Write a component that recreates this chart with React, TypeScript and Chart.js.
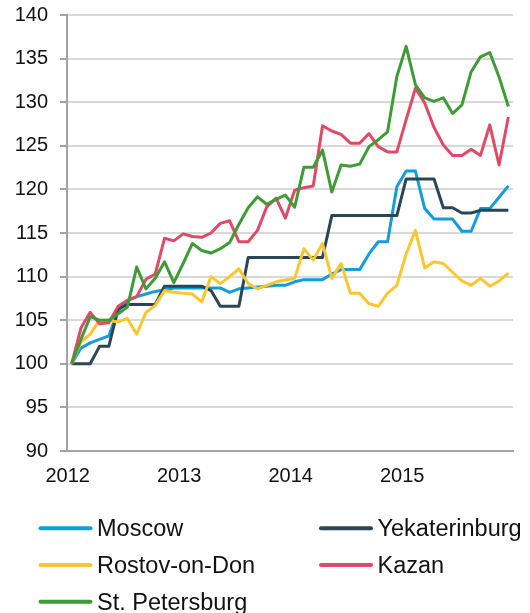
import React, { useEffect, useRef } from 'react';
import { Chart, registerables } from 'chart.js';

Chart.register(...registerables);

const categories = [
  '2012-01', '2012-02', '2012-03', '2012-04', '2012-05', '2012-06', '2012-07', '2012-08', '2012-09', '2012-10', '2012-11', '2012-12',
  '2013-01', '2013-02', '2013-03', '2013-04', '2013-05', '2013-06', '2013-07', '2013-08', '2013-09', '2013-10', '2013-11', '2013-12',
  '2014-01', '2014-02', '2014-03', '2014-04', '2014-05', '2014-06', '2014-07', '2014-08', '2014-09', '2014-10', '2014-11', '2014-12',
  '2015-01', '2015-02', '2015-03', '2015-04', '2015-05', '2015-06', '2015-07', '2015-08', '2015-09', '2015-10', '2015-11', '2015-12',
];

const yearLabels = ['2012', '2013', '2014', '2015'];

const moscow = [
  100, 101.8, 102.4, 102.8, 103.2, 106.1, 107.2, 107.7, 108.0, 108.3, 108.5, 108.7,
  108.7, 108.7, 108.7, 108.7, 108.7, 108.2, 108.6, 108.7, 108.8, 108.9, 109.0, 109.0,
  109.4, 109.65, 109.65, 109.65, 110.3, 110.8, 110.8, 110.8, 112.6, 114.0, 114.0, 120.3,
  122.1, 122.1, 117.8, 116.6, 116.6, 116.6, 115.2, 115.2, 117.8, 117.8, 119.1, 120.4,
];

const yekaterinburg = [
  100, 100, 100, 102, 102, 106.3, 106.8, 106.8, 106.8, 106.8, 108.9, 108.9,
  108.9, 108.9, 108.9, 108.4, 106.6, 106.6, 106.6, 112.2, 112.2, 112.2, 112.2, 112.2,
  112.2, 112.2, 112.2, 112.2, 117.0, 117.0, 117.0, 117.0, 117.0, 117.0, 117.0, 117.0,
  121.2, 121.2, 121.2, 121.2, 117.9, 117.9, 117.3, 117.3, 117.6, 117.6, 117.6, 117.6,
];

const rostov = [
  100, 102.5, 103.4, 105.0, 105.0, 104.8, 105.2, 103.4, 105.9, 106.7, 108.4, 108.2,
  108.1, 108.0, 107.1, 110.0, 109.2, 110.0, 110.9, 109.2, 108.6, 109.0, 109.4, 109.6,
  109.8, 113.2, 111.9, 113.8, 109.8, 111.5, 108.1, 108.1, 106.9, 106.6, 108.1, 109.0,
  112.6, 115.3, 111.0, 111.7, 111.5, 110.5, 109.5, 109.0, 109.8, 108.9, 109.5, 110.4,
];

const kazan = [
  100, 104.1, 105.9, 104.6, 104.7, 106.6, 107.3, 107.7, 109.7, 110.3, 114.4, 114.1,
  114.9, 114.6, 114.5, 115.0, 116.1, 116.4, 114.0, 114.0, 115.3, 118.0, 119.0, 116.7,
  119.9, 120.2, 120.4, 127.3, 126.7, 126.3, 125.3, 125.3, 126.4, 124.9, 124.3, 124.3,
  128.0, 131.6, 129.9, 127.1, 125.1, 123.9, 123.9, 124.6, 123.9, 127.4, 122.8, 128.3,
];

const stPetersburg = [
  100, 102.8, 105.4, 105.0, 105.0, 105.75, 106.5, 111.1, 108.6, 109.8, 111.7, 109.3,
  111.5, 113.8, 113.0, 112.7, 113.2, 113.9, 116.0, 117.9, 119.15, 118.3, 118.85, 119.35,
  117.95, 122.55, 122.55, 124.5, 119.7, 122.8, 122.65, 122.9, 124.9, 125.7, 126.6, 132.95,
  136.4, 132.0, 130.5, 130.1, 130.5, 128.7, 129.7, 133.5, 135.2, 135.7, 132.9, 129.5,
];

const seriesNames = ['Moscow', 'Yekaterinburg', 'Rostov-on-Don', 'Kazan', 'St. Petersburg'];
const seriesValues = [moscow, yekaterinburg, rostov, kazan, stPetersburg];
const seriesColors = ['#139DD9', '#2A4656', '#FDC62F', '#E04A66', '#3E9B36'];

const FONT = '"Liberation Sans", Arial, Helvetica, sans-serif';

const gridLegend = {
  id: 'gridLegend',
  afterDraw(chart: any) {
    const ctx = chart.ctx;
    const cols = [38.5, 319];
    const rows = [528.3, 565, 601.7];
    chart.data.datasets.forEach((ds: any, i: number) => {
      const x = cols[i % 2];
      const y = rows[Math.floor(i / 2)];
      ctx.save();
      ctx.strokeStyle = ds.borderColor;
      ctx.lineWidth = 4;
      ctx.lineCap = 'round';
      ctx.beginPath();
      ctx.moveTo(x + 2, y);
      ctx.lineTo(x + 52, y);
      ctx.stroke();
      ctx.fillStyle = '#111111';
      ctx.font = `23.5px ${FONT}`;
      ctx.textAlign = 'left';
      ctx.textBaseline = 'alphabetic';
      ctx.fillText(ds.label, x + 58.5, y + 7.8);
      ctx.restore();
    });
  },
};

export default function App() {
  const canvasRef = useRef<HTMLCanvasElement | null>(null);

  useEffect(() => {
    if (!canvasRef.current) return;
    const chart = new Chart(canvasRef.current, {
      type: 'line',
      data: {
        labels: categories,
        datasets: seriesNames.map((name, i) => ({
          label: name,
          data: seriesValues[i],
          borderColor: seriesColors[i],
          backgroundColor: seriesColors[i],
          borderWidth: 3,
          pointRadius: 0,
          tension: 0,
          fill: false,
          borderJoinStyle: 'round' as const,
          order: seriesNames.length - i,
        })),
      },
      options: {
        animation: false,
        responsive: true,
        maintainAspectRatio: false,
        layout: { padding: { top: 15, right: 17, bottom: 0, left: 0 } },
        plugins: {
          legend: { display: false },
          tooltip: { enabled: false },
        },
        scales: {
          x: {
            type: 'category',
            offset: true,
            afterFit: (scale: any) => {
              scale.height = 162;
            },
            grid: { display: false, drawTicks: false },
            border: { display: true, color: '#A3A3A3', width: 2 },
            ticks: {
              autoSkip: false,
              maxRotation: 0,
              minRotation: 0,
              padding: 13,
              labelOffset: -4,
              color: '#111111',
              font: { family: FONT, size: 20 },
              callback: (_v: any, index: number) =>
                index % 12 === 0 ? yearLabels[index / 12] : '',
            },
          },
          y: {
            min: 90,
            max: 140,
            afterFit: (scale: any) => {
              scale.width = 67;
              scale.paddingTop = 0;
              scale.paddingBottom = 0;
            },
            grid: {
              color: '#D9D9D9',
              lineWidth: 2,
              drawTicks: true,
              tickLength: 7,
              tickColor: '#A3A3A3',
              tickWidth: 2,
            },
            border: { display: true, color: '#A3A3A3', width: 2 },
            ticks: {
              stepSize: 5,
              padding: 12,
              color: '#111111',
              font: { family: FONT, size: 20 },
            },
          },
        },
      },
      plugins: [gridLegend],
    });
    return () => chart.destroy();
  }, []);

  return (
    <div style={{ position: 'absolute', left: 0, top: 0, width: 530, height: 613, background: '#ffffff' }}>
      <canvas ref={canvasRef} />
    </div>
  );
}
